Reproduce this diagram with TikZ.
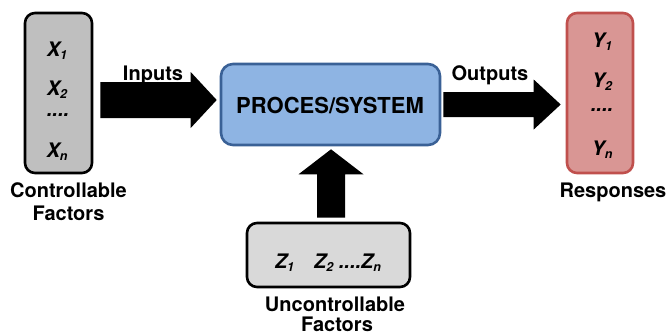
\documentclass[tikz,border=0pt]{standalone}
\usepackage{fontspec}
\setmainfont{TeX Gyre Heros}
\usetikzlibrary{calc}

\definecolor{factgray}{HTML}{BFBFBF}
\definecolor{noisegray}{HTML}{D9D9D9}
\definecolor{procfill}{HTML}{8EB4E3}
\definecolor{procline}{HTML}{3A6196}
\definecolor{respfill}{HTML}{D99694}
\definecolor{respline}{HTML}{C0504D}

% variable with a lowered subscript
\newcommand\varsub[2]{\textbf{\textit{#1\raisebox{-3.5pt}{\fontsize{12.5}{12.5}\selectfont #2}}}}

\tikzset{
  txt/.style={font=\fontsize{20}{23}\selectfont\bfseries, inner sep=0pt, anchor=base},
  var/.style={font=\fontsize{20}{23}\selectfont, inner sep=0pt, anchor=base},
  factbox/.style={draw=black, line width=2.6pt, rounded corners=10pt, inner sep=0pt},
  blockarrow/.style={fill=black},
}

\begin{document}
\begin{tikzpicture}[x=1pt, y=-1pt]
  \useasboundingbox (0,0) rectangle (668,335);

  % boxes
  \node[factbox, fill=factgray, minimum width=67pt, minimum height=160pt] (xbox) at (58.5,93) {};
  \node[draw=procline, line width=2.6pt, fill=procfill, rounded corners=12pt,
        minimum width=219pt, minimum height=81pt, inner sep=0pt] (proc) at (330.5,104.5) {};
  \node[draw=respline, line width=2.6pt, fill=respfill, rounded corners=10pt,
        minimum width=66pt, minimum height=160pt, inner sep=0pt] (ybox) at (600,93) {};
  \node[factbox, fill=noisegray, minimum width=163pt, minimum height=64pt] (zbox) at (328.5,255) {};

  % contents
  \node[txt, font=\fontsize{22}{25}\selectfont\bfseries] (proctxt) at (330,113) {PROCES/SYSTEM};

  \node[var] (x1) at (57,56) {\varsub{X}{1}};
  \node[var] (x2) at (57,95) {\varsub{X}{2}};
  \node[var] (xd) at (58,116) {\textbf{\textit{....}}};
  \node[var] (xn) at (57,157) {\varsub{X}{n}};

  \node[var] (y1) at (602,47) {\varsub{Y}{1}};
  \node[var] (y2) at (602,87) {\varsub{Y}{2}};
  \node[var] (yd) at (602,111) {\textbf{\textit{....}}};
  \node[var] (yn) at (602,155) {\varsub{Y}{n}};

  \node[var] (zrow) at (328,268) {\varsub{Z}{1}\hspace{20pt}\varsub{Z}{2} \textbf{\textit{....}}\varsub{Z}{n}};

  % captions
  \node[txt] (inlbl) at (153,80) {Inputs};
  \node[txt] (outlbl) at (490,80) {Outputs};
  \node[txt] (xcap1) at (68.5,197) {Controllable};
  \node[txt] (xcap2) at (68.5,220) {Factors};
  \node[txt] (ycap) at (613,197) {Responses};
  \node[txt] (zcap1) at (335,311) {Uncontrollable};
  \node[txt] (zcap2) at (337,331.5) {Factors};

  % block arrows
  \coordinate (inA) at ($(xbox.east)+(7,7)$);
  \coordinate (inB) at ($(proc.west |- inA)+(-3,0)$);
  \fill[blockarrow] ($(inA)+(0,-18)$) -- ($(inB)+(-26,-18)$) -- ($(inB)+(-26,-28)$)
    -- (inB) -- ($(inB)+(-26,28)$) -- ($(inB)+(-26,18)$) -- ($(inA)+(0,18)$) -- cycle;

  \coordinate (outA) at ($(proc.east)+(2,0)$);
  \coordinate (outB) at ($(ybox.west |- outA)+(-5,0)$);
  \fill[blockarrow] ($(outA)+(0,-12.5)$) -- ($(outB)+(-27,-12.5)$) -- ($(outB)+(-27,-25)$)
    -- (outB) -- ($(outB)+(-27,25)$) -- ($(outB)+(-27,12.5)$) -- ($(outA)+(0,12.5)$) -- cycle;

  \coordinate (upA) at ($(zbox.north)+(2.5,-4)$);
  \coordinate (upB) at ($(proc.south -| upA)+(0,3)$);
  \fill[blockarrow] ($(upA)+(-14,0)$) -- ($(upB)+(-14,25)$) -- ($(upB)+(-32.5,25)$)
    -- (upB) -- ($(upB)+(32.5,25)$) -- ($(upB)+(14,25)$) -- ($(upA)+(14,0)$) -- cycle;
\end{tikzpicture}
\end{document}
